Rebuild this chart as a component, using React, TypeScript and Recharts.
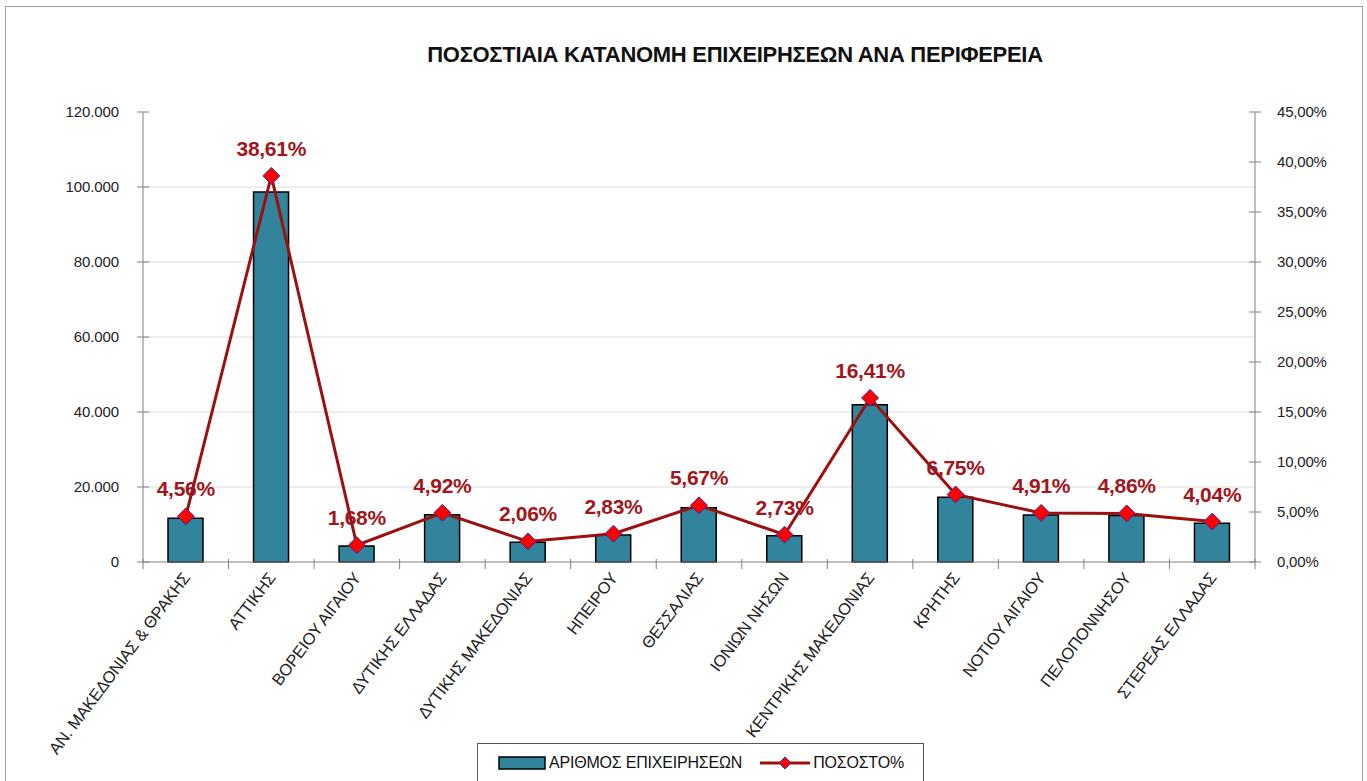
import React from "react";
import {
  ComposedChart,
  Bar,
  Line,
  XAxis,
  YAxis,
  CartesianGrid,
  Legend,
  LabelList
} from "recharts";

const regions = [
  "ΑΝ. ΜΑΚΕΔΟΝΙΑΣ & ΘΡΑΚΗΣ",
  "ΑΤΤΙΚΗΣ",
  "ΒΟΡΕΙΟΥ ΑΙΓΑΙΟΥ",
  "ΔΥΤΙΚΗΣ ΕΛΛΑΔΑΣ",
  "ΔΥΤΙΚΗΣ ΜΑΚΕΔΟΝΙΑΣ",
  "ΗΠΕΙΡΟΥ",
  "ΘΕΣΣΑΛΙΑΣ",
  "ΙΟΝΙΩΝ ΝΗΣΩΝ",
  "ΚΕΝΤΡΙΚΗΣ ΜΑΚΕΔΟΝΙΑΣ",
  "ΚΡΗΤΗΣ",
  "ΝΟΤΙΟΥ ΑΙΓΑΙΟΥ",
  "ΠΕΛΟΠΟΝΝΗΣΟΥ",
  "ΣΤΕΡΕΑΣ ΕΛΛΑΔΑΣ"
];

// number of businesses (left axis)
const businessCounts = [
  11650, 98650, 4290, 12570, 5260, 7230, 14490, 6975, 41930, 17250, 12550,
  12420, 10320
];

// share in % (right axis), from the data labels
const percentShares = [
  4.56, 38.61, 1.68, 4.92, 2.06, 2.83, 5.67, 2.73, 16.41, 6.75, 4.91, 4.86,
  4.04
];

const countTicks = [0, 20000, 40000, 60000, 80000, 100000, 120000];
const gridValues = [20000, 40000, 60000, 80000, 100000];
const percentTicks = [0, 5, 10, 15, 20, 25, 30, 35, 40, 45];

const data = regions.map((region, i) => ({
  region,
  count: businessCounts[i],
  pct: percentShares[i]
}));

const FONT = '"Liberation Sans", Arial, sans-serif';
const AXIS = "#808080";
const TEAL = "#31849B";
const LINE_RED = "#9B1010";

const fmtCount = (v: number) =>
  String(v).replace(/\B(?=(\d{3})+(?!\d))/g, ".");
const fmtPct = (v: number) => v.toFixed(2).replace(".", ",") + "%";

const LeftTick = (props: any) => {
  const { x, y, payload } = props;
  const ax = x + 24;
  return (
    <g>
      <line x1={ax - 6} x2={ax + 6} y1={y} y2={y} stroke={AXIS} />
      <text x={x} y={y} dy={5} textAnchor="end" fontFamily={FONT} fontSize={15} letterSpacing={-0.1} fill="#222">
        {fmtCount(payload.value)}
      </text>
    </g>
  );
};

const RightTick = (props: any) => {
  const { x, y, payload } = props;
  const ax = x - 22;
  return (
    <g>
      <line x1={ax - 6} x2={ax + 6} y1={y} y2={y} stroke={AXIS} />
      <text x={x} y={y} dy={5} textAnchor="start" fontFamily={FONT} fontSize={15} letterSpacing={-0.2} fill="#222">
        {fmtPct(payload.value)}
      </text>
    </g>
  );
};

const CategoryTick = (props: any) => {
  const { x, y, payload, index, width, visibleTicksCount } = props;
  const ay = y - 8;
  const band = width / visibleTicksCount;
  const tx = x + 5;
  const ty = ay + 16;
  return (
    <g>
      <line x1={x - band / 2} x2={x - band / 2} y1={ay - 3} y2={ay + 7} stroke={AXIS} />
      {index === visibleTicksCount - 1 && (
        <line x1={x + band / 2} x2={x + band / 2} y1={ay - 3} y2={ay + 7} stroke={AXIS} />
      )}
      <text
        x={tx}
        y={ty}
        textAnchor="end"
        transform={`rotate(-53, ${tx}, ${ty})`}
        fontFamily={FONT}
        fontSize={16.5}
        letterSpacing={-0.2}
        fill="#222"
      >
        {payload.value}
      </text>
    </g>
  );
};

const Diamond = (props: any) => {
  const { cx, cy } = props;
  if (cx == null || cy == null) return null;
  const r = 8.5;
  return (
    <polygon
      points={`${cx},${cy - r} ${cx + r},${cy} ${cx},${cy + r} ${cx - r},${cy}`}
      fill="#FF0000"
      stroke="#3030A0"
      strokeWidth={1}
    />
  );
};

const PctLabel = (props: any) => {
  const { x, y, value } = props;
  return (
    <text x={x} y={y - 20} textAnchor="middle" fontFamily={FONT} fontSize={21} fontWeight="bold" letterSpacing={-0.3} fill="#A0161C">
      {fmtPct(value)}
    </text>
  );
};

const LegendBox = (props: any) => {
  const { payload = [] } = props;
  return (
    <div
      style={{
        boxSizing: "border-box",
        width: 447,
        height: 40,
        border: "1px solid #555",
        background: "#fff",
        display: "flex",
        alignItems: "center",
        paddingLeft: 20,
        fontFamily: FONT,
        fontSize: 16,
        letterSpacing: -0.2,
        color: "#111"
      }}
    >
      {payload.map((entry: any) => (
        <div key={entry.value} style={{ display: "flex", alignItems: "center", marginRight: 18 }}>
          {entry.dataKey === "count" ? (
            <svg width={48} height={16}>
              <rect x={1} y={2} width={46} height={12} fill={TEAL} stroke="#000" strokeWidth={1.5} />
            </svg>
          ) : (
            <svg width={50} height={16}>
              <line x1={0} x2={50} y1={8} y2={8} stroke={LINE_RED} strokeWidth={3} />
              <polygon points="25,2 31,8 25,14 19,8" fill="#FF0000" stroke="#3030A0" strokeWidth={1} />
            </svg>
          )}
          <span style={{ marginLeft: 3 }}>{entry.value}</span>
        </div>
      ))}
    </div>
  );
};

export default function App() {
  return (
    <div style={{ position: "absolute", left: 0, top: 0, width: 1367, height: 781, overflow: "hidden", background: "#fff" }}>
      <div
        style={{
          position: "absolute",
          left: 5,
          top: 6,
          width: 1356,
          height: 775,
          borderTop: "1px solid #a0a0a0",
          borderLeft: "1px solid #a0a0a0",
          borderRight: "1px solid #a0a0a0"
        }}
      />
      <div
        style={{
          position: "absolute",
          left: 735,
          top: 42,
          transform: "translateX(-50%)",
          whiteSpace: "nowrap",
          fontFamily: FONT,
          fontSize: 22,
          fontWeight: "bold",
          letterSpacing: -0.3,
          color: "#111"
        }}
      >
        ΠΟΣΟΣΤΙΑΙΑ ΚΑΤΑΝΟΜΗ ΕΠΙΧΕΙΡΗΣΕΩΝ ΑΝΑ ΠΕΡΙΦΕΡΕΙΑ
      </div>
      <div style={{ position: "absolute", left: 0, top: 0 }}>
        <ComposedChart
          width={1367}
          height={781}
          data={data}
          margin={{ top: 112, right: 12, bottom: 20, left: 63 }}
        >
          <CartesianGrid
            yAxisId="left"
            vertical={false}
            horizontalValues={gridValues}
            stroke="#dcdcdc"
          />
          <XAxis
            dataKey="region"
            interval={0}
            height={199}
            stroke={AXIS}
            tickLine={false}
            tick={<CategoryTick />}
          />
          <YAxis
            yAxisId="left"
            domain={[0, 120000]}
            ticks={countTicks}
            width={80}
            stroke={AXIS}
            tickLine={false}
            tickSize={6}
            tickMargin={18}
            tick={<LeftTick />}
          />
          <YAxis
            yAxisId="right"
            orientation="right"
            domain={[0, 45]}
            ticks={percentTicks}
            width={100}
            stroke={AXIS}
            tickLine={false}
            tickSize={6}
            tickMargin={16}
            tick={<RightTick />}
          />
          <Legend
            layout="horizontal"
            verticalAlign="middle"
            align="center"
            wrapperStyle={{ left: 477, top: 743, width: 447, height: 40 }}
            content={<LegendBox />}
          />
          <Bar
            yAxisId="left"
            dataKey="count"
            name="ΑΡΙΘΜΟΣ ΕΠΙΧΕΙΡΗΣΕΩΝ"
            fill={TEAL}
            stroke="#000"
            strokeWidth={1.5}
            barSize={35}
            isAnimationActive={false}
          />
          <Line
            yAxisId="right"
            dataKey="pct"
            name="ΠΟΣΟΣΤΟ%"
            type="linear"
            stroke={LINE_RED}
            strokeWidth={3}
            dot={<Diamond />}
            activeDot={false}
            isAnimationActive={false}
          >
            <LabelList dataKey="pct" content={<PctLabel />} />
          </Line>
        </ComposedChart>
      </div>
    </div>
  );
}
